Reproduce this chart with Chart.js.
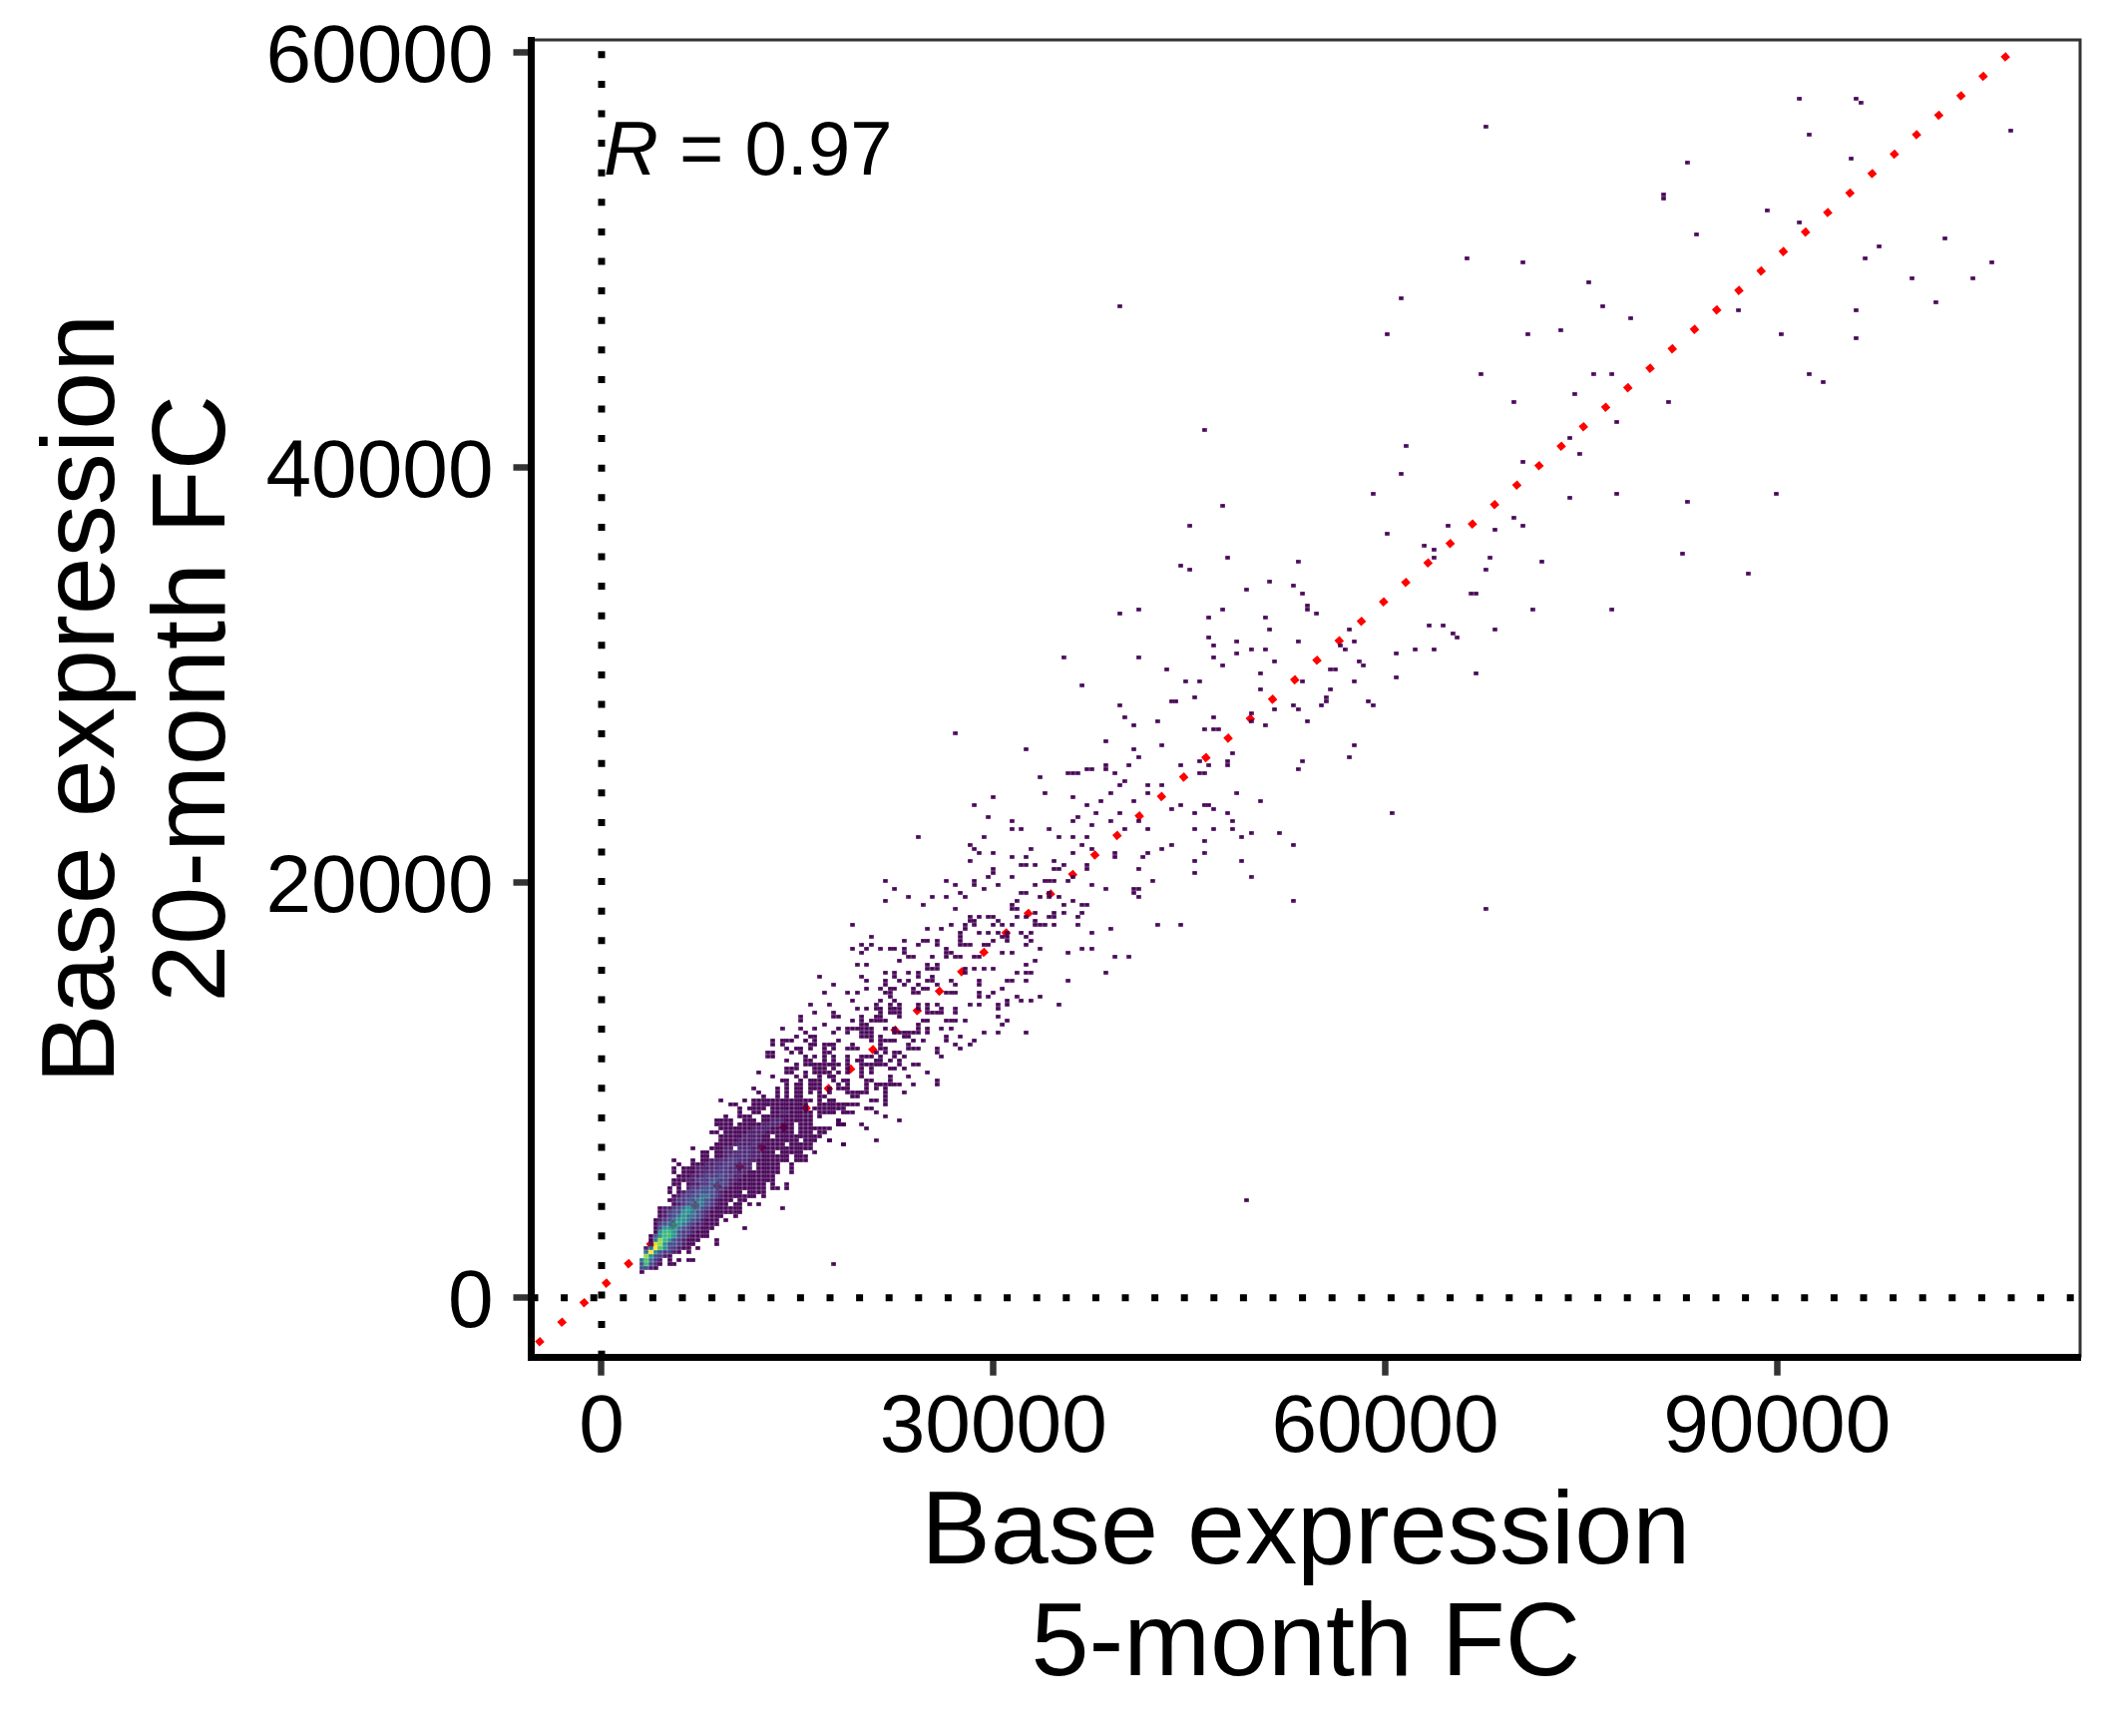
<!DOCTYPE html>
<html>
<head>
<meta charset="utf-8">
<title>Base expression</title>
<script src="https://cdn.jsdelivr.net/npm/chart.js@4"></script>
<style>
  html, body { margin: 0; padding: 0; background: #fff; }
  canvas { display: block; }
</style>
</head>
<body>
<canvas id="chart" width="2125" height="1740"></canvas>
<script>
// axes
const xTicks = [0, 30000, 60000, 90000];
const yTicks = [0, 20000, 40000, 60000];
const xRange = [-5385, 113200];
const yRange = [-2885, 60610];

// dotted reference lines
const zeroLineX = [-5385, 113200];
const zeroLineY = [-2885, 60610];
const fitX = [-5385, 108960];
const fitY = [-2474, 60610];

// size of one bin, and the bin edge the counts are aligned to
const binX = 359;
const binY = 192.3;
const originX = 3056;
const originY = 1250;

// dense part of the cloud: y of the row, x of its first bin, counts per bin
const coreY = [1250,1442,1635,1827,2019,2212,2404,2596,2788,2981,3173,3365,3558,3750,3942,4135,4327,4519,4711,4904,5096,5288,5481,5673,5865,6058,6250,6442,6634,6827,7019,7211,7404,7596,7788,7981,8173,8365,8558,8750,8942,9134,9327,9519];
const coreX0 = [3056,3056,3056,3056,3415,3415,3415,3774,3774,3774,4133,4133,4133,4133,4492,4492,4492,5569,5210,5569,5210,5210,5569,5569,5928,5569,5569,5928,5569,7723,7723,7005,8800,9159,9159,8441,9159,8800,8800,9518,10595,10595,9877,9159];
const coreCounts = [
  [1],
  [7,7,2,1],
  [7,26,7,3,1,0,1,1],
  [12,30,12,4,2,0,1,0,1,0,1,1],
  [34,18,7,4,2,1],
  [12,45,18,7,4,4,2,1,0,1],
  [2,12,45,30,18,7,4,2,1,1,0,1],
  [2,42,34,18,7,7,4,2,1,1,0,0,0,0,1],
  [1,12,34,26,18,7,4,2,1,1,1,0,0,0,1],
  [1,7,18,26,26,18,7,4,2,1,1,1,1],
  [1,18,26,26,18,7,4,4,2,1,1,1],
  [1,7,18,18,18,12,7,4,2,2,1,1,1,0,0,0,0,0,0,1],
  [1,4,7,12,18,18,12,7,4,2,2,1,1,1],
  [1,2,4,7,12,18,18,12,7,4,2,1,1,1,0,1],
  [1,2,4,7,12,18,12,12,7,4,2,1,1,1,0,0,1],
  [1,2,4,7,7,18,18,12,7,4,2,1,1,1,1,1,1,1],
  [1,2,2,4,7,12,18,12,12,7,4,2,1,1,1,1,1,1,0,0,0,0,0,0,0,0,1],
  [1,2,4,7,12,12,12,7,4,2,1,1,0,1,1,0,1,0,1],
  [1,2,4,4,7,7,12,12,7,4,2,1,1,1,0,1,1],
  [1,2,4,4,7,7,12,12,7,4,2,1,1,1,1,1,1,1,0,1],
  [1,0,1,2,4,4,7,7,7,7,4,2,1,1,1,1,0,1,1,1,1],
  [1,0,1,0,2,4,4,7,7,7,7,4,2,1,1,1,1,1,1,1,1,0,1,1,0,1],
  [1,1,0,1,2,2,4,4,7,7,7,4,2,1,1,1,1,1,1,1,0,1,0,0,1],
  [1,1,1,2,2,4,4,4,7,7,4,4,2,2,1,1,1,1,1,1,1,1],
  [1,1,1,2,2,3,4,4,4,7,4,4,2,2,1,1,1,1,1,1,1],
  [1,0,1,1,1,2,2,3,3,4,4,4,3,3,2,2,1,1,1,1,1,1,1,0,0,1],
  [1,0,1,1,1,2,2,2,3,3,4,4,3,3,2,2,2,0,1,1,1,1,1,0,0,1],
  [1,0,0,1,1,1,2,2,3,3,4,4,3,3,2,2,0,1,1,1,1,1,0,0,1],
  [1,0,0,0,1,0,1,1,2,2,3,3,4,4,3,3,2,2,1,1,1,1,1,1,1,0,1,1,1],
  [1,1,0,1,1,2,3,3,3,3,3,2,2,1,1,1,1,1,1,0,1,1,1],
  [1,1,0,1,1,2,2,3,3,3,3,2,2,1,1,1,0,1,1,1,1,1,0,0,1],
  [1,0,0,0,1,1,1,2,2,0,3,3,3,2,2,1,1,1,1,1,1,1,1,1,1,1],
  [1,1,1,1,2,2,2,2,3,2,2,1,1,1,1,0,1,1,1,1,1,0,0,0,0,0,0,1],
  [1,1,1,1,2,2,2,2,2,1,1,1,1,1,1,1,1,0,1,1,1,0,0,1],
  [1,1,1,1,1,2,2,2,2,1,1,0,1,1,1,1,1,1,1,1,1,1],
  [1,1,0,1,1,1,1,1,2,2,2,2,1,1,1,1,1,1,0,1,1,1,0,1,1],
  [1,1,1,1,1,1,1,2,2,2,2,1,1,1,1,1,0,1,1,1,1,1,1,1],
  [1,1,1,1,0,1,1,1,1,1,2,2,2,2,1,1,1,0,1,1,1,0,0,0,0,0,1,1],
  [1,1,1,1,0,0,1,1,1,0,1,1,2,2,2,1,1,1,1,1,1,0,0,0,0,0,1],
  [1,0,0,1,1,1,0,0,1,1,1,1,1,1,1,1,1,1,1,0,1],
  [1,0,0,1,1,0,0,1,1,2,2,1,1,1,1,1,0,1,1,1,1,0,1,1,1],
  [1,0,1,1,1,1,0,1,1,1,1,1,1,1,1,0,1,1,1,1,1,1,1],
  [1,1,0,0,0,1,1,1,1,1,1,1,1,1,1,1,1,0,0,1,1,1,1,1,1,1,1],
  [1,0,0,0,0,1,0,1,1,1,1,1,1,1,1,1,1,1,1,1,0,1,0,1,1]
];

// single bins holding one value: upper right of the plot
const topX = [91569,95883,96268,67827,92305,107771,95532,82942,81469,81153,89044,91569,83679,102721,97671,96619,66389,70703,106299,100196,104896,101985,75752,61374,76489,86905,95883,78979,71053,73578,90131,95883,67476,76103,77191,92305,93358,74665,70001,81820,77892,74315,61690,75016,70703,61374,74315,77892,82942,89780,70001,68528,70703,64951,63163,63864,63864,68178,67827,72140,82591,87957,66740,67125,71404,77191,63513,64565,68528,39773,60268,46240,59199,47691,45170,60268,27171,30045,49350,17800];
const topY = [57728,57728,57544,56385,56000,56182,54839,54655,53091,52907,52337,51748,51177,50975,50589,50018,50018,49834,49834,49043,49043,47902,48859,48086,47700,47516,47516,47130,46357,46541,46357,46154,44609,44425,44425,44425,44038,43468,43081,43081,42125,41352,40965,40579,40377,39806,38647,38831,38445,38831,37690,37101,37304,37304,36329,36145,35758,35758,35188,35574,35942,34986,34028,34028,33256,33256,32483,32483,32299,47697,46350,41910,38832,38255,37293,36908,27281,24184,4620,1635];

// sparse bins along the middle of the cloud, one list of x per row of y
const midY = [35757,35565,35373,35180,34603,34411,34218,34026,33449,33257,33064,32872,32295,32103,31910,31718,31525,31333,31141,30948,30756,30564,30371,30179,29986,29794,29602,29409,29025,28832,28640,28448,28239,28063,27871,27678,27486,26909,26716,26524,26316,26139,25947,25755,25562,25370,25177,24985,24793,24408,24216,24023,23831,23639,23446,23254,23061,22869,22677,22484,22292,22100,21907,21715,21523,21330,21138,20945,20753,20561,20368,20176,19984,19791,19599,19406,19182,18990,18797,18605,18413,18220,18028,17836,17643,17451,17259,17066,16874,16681,16489,16297,16104,15720,15335,14950,14566];
const midX = [
  [48047],[53419],[44432],[45170],[51281],[53088],[49473],[53801],[54158],
  [41198,47691,54158],[39773,54870],[46596,50924],[51281,57391],[65309],[46596,65665],
  [48760,53419,57773],[46952,56678],[49830,50924,57035,62432,63884],[48760,61006],
  [35444,41198,46952],[51637,58129],[47691,58486],[43363,55965,56321],[50568,67117],[61006],
  [44788,45883,53801,57773],[36896],[50568,55965],[45527,55609],[43719,44075,55609,58842],
  [39773,53063,55252,59199],[51637,53419],[49830],[40129,46952],[42650,49830,54158],[40842,50924],
  [46240,46952,47334],[38678],[43006,57773],[32567,40842],[48404],[41198,57391],
  [45883,48047,53801],[38678,40486,44457,46596,48047],[37252,37609,38678,53419],
  [35801,36157,36514,39416,45883,46240],[33637],[40129],[39773,41937,43006],
  [34019,39034,41937,48760],[36157],[38321,40842,50568],[37252,44457,46240,46596],[43719,46952],
  [37965,39773,45527,48047,60624],[36514],[31473,36157,39034,41198,48404],[37609],
  [31473,32186,34375,40129,41937,45527,46952,48404],[49830,51993],[35088,36157,37252,49116],[46240],
  [36896,43719,53088],[32924,37609,43006],[36157,39416,41937,46240],[31473,32567,39416,41555],
  [34731,45527,49116],[32186,32567,33280,35444,37252],[34731,35088,37252,41198],[45527],
  [31473,36157,49830],[34019,34375,34731,35801,42293],[30454,33280,37609],[38678,40842,41198],
  [32186,32567,34375,40842],[33637,34375,35088,41198],[31855,36157,53088],[31473,35444,36896,37252],
  [31473,31855,67830],[33280,34731,35444,36896],[31855,32567,34375,34731,36514],[30454,33280],
  [30760,31473,33280,33637,34019,34731,36514,42650,44457],[39034],[30454,31091,32186,32924,37609],
  [30760,31091,32567],[31091,32924],[32567],[33637,36896,37609],[30760,31473,35801],[39416,40486],
  [33280],[32567],[31855,32567,32924,38678],[31091,31473,32567,35801],[30760],[31855,33637]
];

// scattered bins above the dense part, one list of x per row of y
const lowY = [23801,23224,22263,21878,21685,21493,21108,20724,20531,20339,20147,19954,19762,19570,19377,19185,18992,18800,18415,18223,18031,17838,17646,17454,17261,17069,16876,16684,16492,16299,16107,15915,15722,15530,15337,15145,14953,14760,14568,14376,14183,13991,13799,13606,13414,13222,13029,12837,12644,12452,12260,12067,11875,11683,11490,11298,11106,10913,10721,10528,10336,10144,9951,9759,9535,9342,9150,8958,8765,8573,8381,8188,7611,7418];
const lowX = [
  [28593],[29662],[24290,29306],[28236],[28593],[28949,30018],[28236],[30018],[30018],[29662],
  [21744,26429,28593],[27142,28593],[22482,29306],[27523],[23552,25359,26429,27880],[21744],[24647],[27167],
  [28236,28949,29662,30018],[28236,28593],[19249,26810,27880,28593,30018],[25003,26098,27880],[27523,28949,29662],
  [20700,27523],[23195,24647,25003,25741,27523,30018],[19987,20700,24290,25741,27523,27880,28236,29306,29662],
  [19249,20344,21413,22126,22482,23195,26429],[19987,23195,26429,26810],
  [23552,23908,25359,26429,27167,27523,28593,28949],[22839],[19605,20344,25003,25741],
  [25003,25359,25741,27880,28593,29306,30018],[21770,22482,23552,24290,27880],[16728,19987,22482,24290,25359],
  [20344,21770,22839,23552,25003,25359,26810,28949],[17823,21770,23195,24290,25741,27167,28949],
  [20344,21413,22126,22482,23908,24647,25003],
  [17085,18867,19605,21770,22126,23908,24290,26429,26810,27167,28949,30044],[22126,28949,29688],
  [19249,21413,22482,31139,32208,32921],
  [15990,17467,21031,22126,22839,24290,25003,25741,28236,28949,30426,31139,35085],
  [19605,20344,21031,21413,22126,22482,22839,24290,25003,26098,27167,30426],
  [16397,17823,21413,22126,22482,22839,25003,25359,25741,26098,27167],
  [15303,17823,18180,19987,21031,21413,22890,30426],
  [15303,19249,19987,20700,21031,21413,21770,24647,25003,26454,26810,27167,27880,31139],
  [17085,19987,20344,24290,30757],
  [13851,15303,16397,18180,18867,19249,19605,19987,20344,20700,21770,22482,24290,25003,26098,26810],
  [15634,17823,18867,19987,20344,20700,22482,22839,23195,23552,23908,24290,25003,29331,30426,32564],
  [14946,15990,16397,19987,20344,20700,21413,23195,23552,26454,27523],
  [13139,13851,14233,14590,15634,16397,18180,20700,21413,21770,22126,22482,23908,24647,26454,28618],
  [13139,13851,15990,16397,17085,17467,17823,19249,21413,23552,27167,28262],
  [14233,14946,15303,15990,17085,17823,18867,19249,19605,21413,21770,23552,23908,24290,25741,27523],
  [12757,13139,14590,15303,17085,17467,21031,21770,22482,22839,25741],
  [12757,13139,15634,16397,17085,17823,18867,19987,20344,20700,21413,22482,23195,26098],
  [14233,15634,15990,17085,17823,18867,19605,19987,21031,21413,22126,22839],
  [14946,15634,15990,16397,16754,17085,17467,17823,18180,18867,19987,20344,20700,21031,21413,21770,22839,23908,24290],
  [14233,14590,14946,16397,16754,17085,17823,18867,19987,20700,22126,22482,23195],
  [12069,14233,14590,15710,16397,16754,17085,17467,18180,18867,19987,20700,25003],
  [13139,14946,15710,16754,17467,17823,19987,22126,23552],
  [13851,14233,15303,15990,16397,16754,17823,18485,18867,20344,20700,22126,25741],
  [14233,14946,15303,15990,16397,16754,18180,18867,20344,21031,21413,21770,22126,22482,22839,23908,25741],
  [11687,13520,14233,14946,15303,15990,16397,16754,17467,18180,18485,18867,20344,21031,21770],
  [12069,13520,14233,14946,15303,15990,16754,17467,18867,19249,19605,19987,20344,21770,23195],
  [12426,13520,14233,14946,15303,16754,17110,19249,19605,21770],
  [20700,21031,21770],[19605,21770],[20344,20700],[21031],[21770],[18180,22839],[18180,18536,19987],[20344],[17415,21057],[18536]
];

// fill scale of the bins
const countLevels = [1,2,3,4,7,12,18,26,30,34,42,45];
const countColors = ["#440154","#471768","#482475","#46337f","#3e4a89","#2e6e8e","#21908c","#35b779","#48c16e","#90d743","#d8e219","#fde725"];

function makeCellStyle(color) {
    const c = document.createElement("canvas");
    c.width = 5;
    c.height = 4;
    const g = c.getContext("2d");
    g.fillStyle = color;
    g.fillRect(0.2, 0.2, 4.6, 3.6);
    return c;
}
const cellStyles = {};
countLevels.forEach((n, i) => { cellStyles[n] = makeCellStyle(countColors[i]); });

function snap(v, origin, step) {
    return origin + step * Math.round((v - origin) / step);
}

const cells = [];
coreCounts.forEach((row, r) => {
    row.forEach((count, i) => {
        if (count > 0) cells.push({ x: coreX0[r] + i * binX, y: coreY[r], count });
    });
});
function addRows(rowsY, rowsX) {
    rowsX.forEach((list, r) => {
        list.forEach((x) => {
            cells.push({ x: snap(x, originX, binX), y: snap(rowsY[r], originY, binY), count: 1 });
        });
    });
}
addRows(midY, midX);
addRows(lowY, lowX);
topX.forEach((x, i) => {
    cells.push({ x: snap(x, originX, binX), y: snap(topY[i], originY, binY), count: 1 });
});

// top and right sides of the panel
const panelFrame = {
    id: "panelFrame",
    afterDatasetsDraw(chart) {
        const { ctx, chartArea: a } = chart;
        ctx.save();
        ctx.strokeStyle = "#333333";
        ctx.lineWidth = 3;
        ctx.beginPath();
        ctx.moveTo(a.left, a.top);
        ctx.lineTo(a.right, a.top);
        ctx.lineTo(a.right, a.bottom);
        ctx.stroke();
        ctx.restore();
    },
};

// correlation label, R is set in italics
const corrLabel = {
    id: "corrLabel",
    afterDraw(chart) {
        const { ctx } = chart;
        ctx.save();
        ctx.fillStyle = "#000";
        ctx.textBaseline = "alphabetic";
        ctx.font = "italic 76px 'Liberation Sans'";
        ctx.fillText("R", 605, 175);
        const w = ctx.measureText("R").width;
        ctx.font = "76px 'Liberation Sans'";
        ctx.fillText(" = 0.97", 605 + w, 175);
        ctx.restore();
    },
};

function twoPoints(xs, ys) {
    return [{ x: xs[0], y: ys[0] }, { x: xs[1], y: ys[1] }];
}

new Chart(document.getElementById("chart"), {
    type: "scatter",
    data: {
        datasets: [
            {
                data: twoPoints(zeroLineX, [0, 0]),
                showLine: true,
                pointRadius: 0,
                borderColor: "#000",
                borderWidth: 7,
                borderDash: [7, 22.6],
                order: 4,
            },
            {
                data: twoPoints([0, 0], zeroLineY),
                showLine: true,
                pointRadius: 0,
                borderColor: "#000",
                borderWidth: 7,
                borderDash: [7, 22.6],
                order: 3,
            },
            {
                data: twoPoints(fitX, fitY),
                showLine: true,
                pointRadius: 0,
                borderColor: "#ff0000",
                borderWidth: 6.8,
                borderDash: [6.8, 22.8],
                borderDashOffset: 21.7,
                order: 2,
            },
            {
                data: cells,
                pointStyle: (ctx) => cellStyles[ctx.raw ? ctx.raw.count : 1],
                pointRadius: 3,
                order: 1,
            },
        ],
    },
    options: {
        responsive: false,
        animation: false,
        devicePixelRatio: 1,
        layout: { padding: { top: 40, right: 40 } },
        plugins: { legend: { display: false }, tooltip: { enabled: false } },
        events: [],
        scales: {
            x: {
                type: "linear",
                min: xRange[0],
                max: xRange[1],
                afterFit(s) { s.height = 379.3; s.paddingLeft = 0; s.paddingRight = 0; },
                afterBuildTicks(s) { s.ticks = xTicks.map((v) => ({ value: v })); },
                grid: { drawOnChartArea: false, tickLength: 18, tickWidth: 6.5, tickColor: "#333333" },
                border: { color: "#000", width: 7, z: 1 },
                ticks: {
                    color: "#000",
                    padding: 4,
                    maxRotation: 0,
                    minRotation: 0,
                    autoSkip: false,
                    callback: (v) => String(v),
                    font: { family: "'Liberation Sans'", size: 82 },
                },
                title: {
                    display: true,
                    text: ["Base expression", "5-month FC"],
                    color: "#000",
                    padding: { top: 0, bottom: 34 },
                    font: { family: "'Liberation Sans'", size: 104.3, lineHeight: 1.07 },
                },
            },
            y: {
                type: "linear",
                min: yRange[0],
                max: yRange[1],
                afterFit(s) { s.width = 532.5; s.paddingTop = 0; s.paddingBottom = 0; },
                afterBuildTicks(s) { s.ticks = yTicks.map((v) => ({ value: v })); },
                grid: { drawOnChartArea: false, tickLength: 18, tickWidth: 6.5, tickColor: "#333333" },
                border: { color: "#000", width: 7, z: 1 },
                ticks: {
                    color: "#000",
                    padding: 20,
                    labelOffset: 7,
                    autoSkip: false,
                    callback: (v) => String(v),
                    font: { family: "'Liberation Sans'", size: 82 },
                },
                title: {
                    display: true,
                    text: ["Base expression", "20-month FC"],
                    color: "#000",
                    padding: { top: 29, bottom: 0 },
                    font: { family: "'Liberation Sans'", size: 104.3, lineHeight: 1.07 },
                },
            },
        },
    },
    plugins: [panelFrame, corrLabel],
});
</script>
</body>
</html>
